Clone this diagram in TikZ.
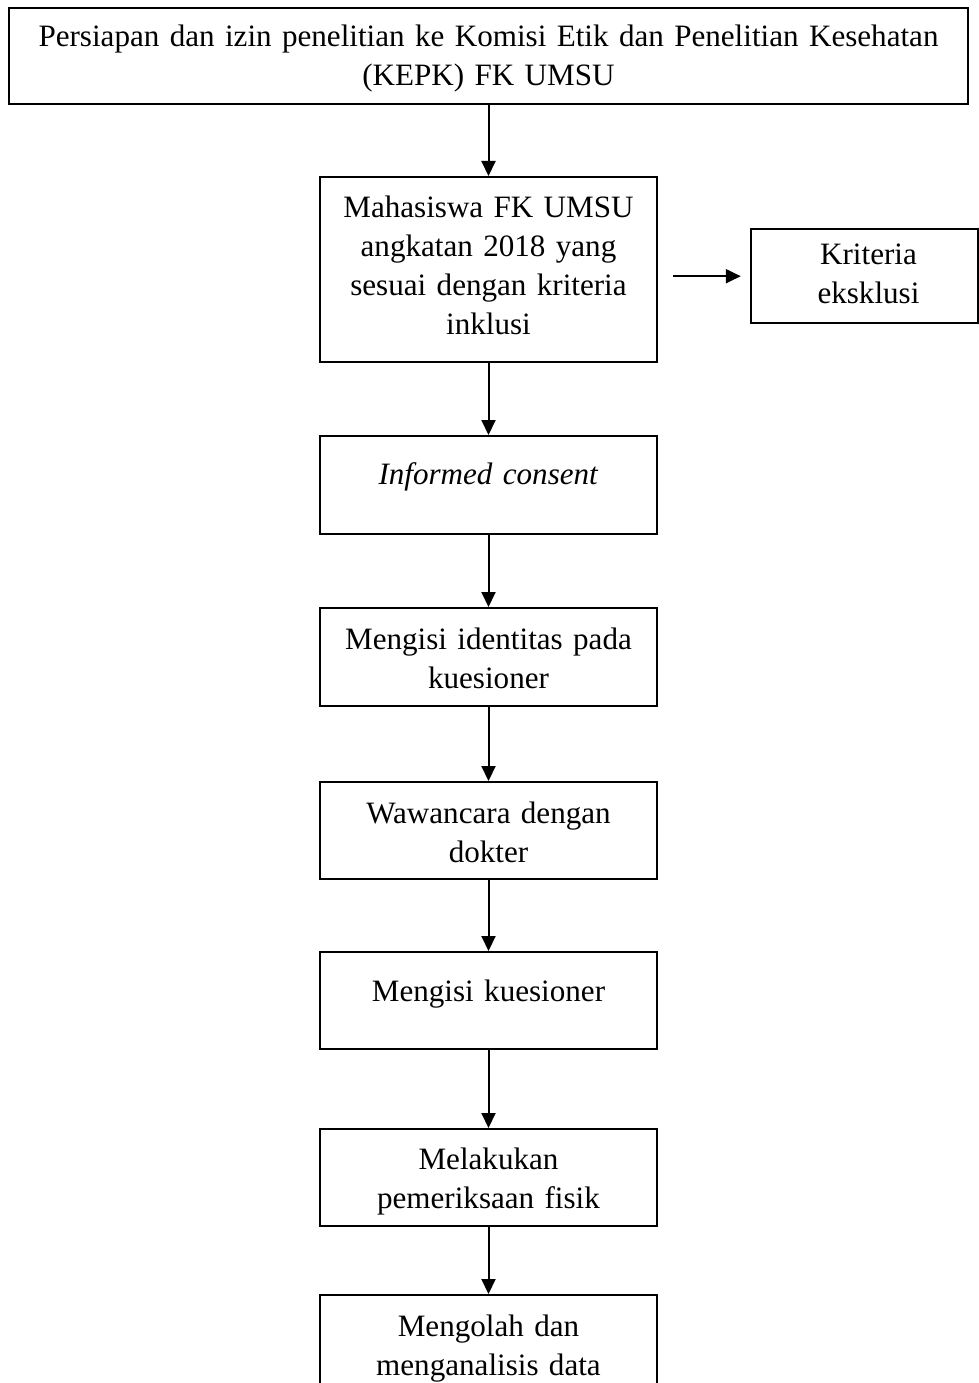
\documentclass[tikz,border=0pt]{standalone}
\usepackage{fontspec}
\setmainfont{Liberation Serif}
\usetikzlibrary{arrows.meta}
\tikzset{
  box/.style={draw, line width=2.4pt, inner sep=0pt, align=center,
    font=\fontsize{31.1}{39}\selectfont},
  arr/.style={line width=2pt, -{Triangle[length=15pt,width=14pt]}},
}
\begin{document}
\begin{tikzpicture}[x=1pt,y=-1pt]
\useasboundingbox (0,0) rectangle (979,1383);
% boxes: anchor north at (center x, top y)
\node[box, anchor=north, text width=959pt, text height=38pt, text depth=58pt] (top) at (488.5,7)
  {Persiapan dan izin penelitian ke Komisi Etik dan Penelitian Kesehatan\\(KEPK) FK UMSU};
\node[box, anchor=north, text width=337pt, text height=40pt, text depth=145pt] (b2) at (488.5,176)
  {Mahasiswa FK UMSU\\angkatan 2018 yang\\sesuai dengan kriteria\\inklusi};
\node[box, anchor=north, text width=227pt, text height=35pt, text depth=59pt] (kr) at (864.5,228)
  {\hspace*{8pt}Kriteria\\\hspace*{8pt}eksklusi};
\node[box, anchor=north, text width=337pt, text height=48pt, text depth=50pt] (b3) at (488.5,435)
  {\textit{Informed consent}};
\node[box, anchor=north, text width=337pt, text height=41pt, text depth=57pt] (b4) at (488.5,607)
  {Mengisi identitas pada\\kuesioner};
\node[box, anchor=north, text width=337pt, text height=41pt, text depth=56pt] (b5) at (488.5,781)
  {Wawancara dengan\\dokter};
\node[box, anchor=north, text width=337pt, text height=49pt, text depth=48pt] (b6) at (488.5,951)
  {Mengisi kuesioner};
\node[box, anchor=north, text width=337pt, text height=40pt, text depth=57pt] (b7) at (488.5,1128)
  {Melakukan\\pemeriksaan fisik};
\node[box, anchor=north, text width=337pt, text height=41pt, text depth=60pt] (b8) at (488.5,1294)
  {Mengolah dan\\menganalisis data};
% connectors
\draw[arr] (top) -- (b2);
\draw[arr] (b2) -- (b3);
\draw[arr] (b3) -- (b4);
\draw[arr] (b4) -- (b5);
\draw[arr] (b5) -- (b6);
\draw[arr] (b6) -- (b7);
\draw[arr] (b7) -- (b8);
\draw[arr, shorten <=15pt, shorten >=9pt] (b2.east |- kr.west) -- (kr.west);
\end{tikzpicture}
\end{document}
